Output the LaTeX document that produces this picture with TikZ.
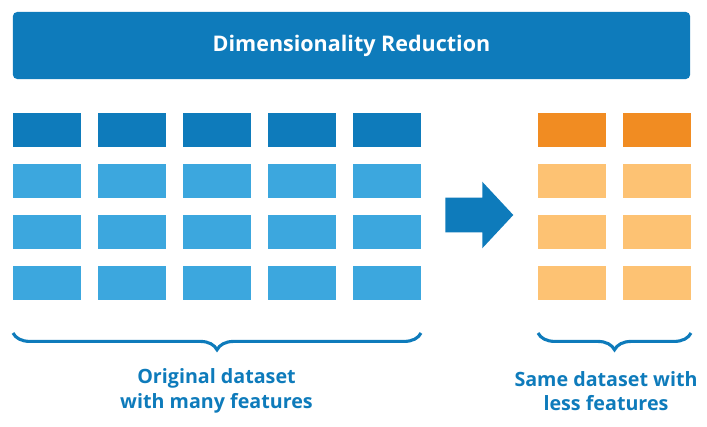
\documentclass[tikz,border=0pt]{standalone}
\usepackage{fontspec}
\setmainfont{Open Sans}
\usetikzlibrary{positioning, decorations.pathreplacing, shapes.arrows, calc}
\definecolor{drblue}{HTML}{0E7BBB}
\definecolor{drlight}{HTML}{3CA7DE}
\definecolor{drorange}{HTML}{F18C22}
\definecolor{drpeach}{HTML}{FDC273}

\begin{document}
\begin{tikzpicture}[
  x=0.025cm, y=-0.025cm,
  cell/.style={minimum width=1.7cm, minimum height=0.85cm, inner sep=0pt, outer sep=0pt},
  banner/.style={fill=drblue, rounded corners=3pt, minimum width=16.925cm, minimum height=1.675cm, text=white, font=\bfseries\fontsize{15.3}{18}\selectfont},
  bigarrow/.style={single arrow, fill=drblue, minimum height=1.7cm, inner xsep=0pt, inner ysep=0.425cm, single arrow head extend=0.4cm, single arrow tip angle=94},
  setbrace/.style={draw=drblue, line width=2.2pt, decorate, decoration={brace, mirror, amplitude=0.42cm}},
  caption/.style={align=center, text=drblue, font=\bfseries\fontsize{14}{17.5}\selectfont},
]
  \useasboundingbox (0,0) rectangle (707,426);

  % Title bar
  \node (title) [banner] at (351.5, 45.5) {Dimensionality Reduction};

  % Original dataset (5 features)
  \foreach \c in {1,...,5} {
    \node (orig1\c) [cell, fill=drblue] at ({47+85*(\c-1)}, 130) {};
  }
  \foreach \r in {2,3,4} {
    \foreach \c in {1,...,5} {
      \node (orig\r\c) [cell, fill=drlight] at ({47+85*(\c-1)}, {130+51*(\r-1)}) {};
    }
  }

  % Reduced dataset (2 features)
  \foreach \c in {1,2} {
    \node (red1\c) [cell, fill=drorange] at ({572+85*(\c-1)}, 130) {};
  }
  \foreach \r in {2,3,4} {
    \foreach \c in {1,2} {
      \node (red\r\c) [cell, fill=drpeach] at ({572+85*(\c-1)}, {130+51*(\r-1)}) {};
    }
  }

  % Arrow between the two sets
  \node (step) [bigarrow, anchor=tail] at (445, 215) {};

  % Braces
  \draw [setbrace] ($(orig41.south west)+(0,33)$) -- ($(orig45.south east)+(0,33)$);
  \draw [setbrace] ($(red41.south west)+(0,33)$) -- ($(red42.south east)+(0,33)$);

  % Labels
  \node (origlabel) [caption] at (216.5, 391) {Original dataset\\with many features};
  \node (redlabel) [caption] at (606, 391) {Same dataset with\\less features};

\end{tikzpicture}
\end{document}
